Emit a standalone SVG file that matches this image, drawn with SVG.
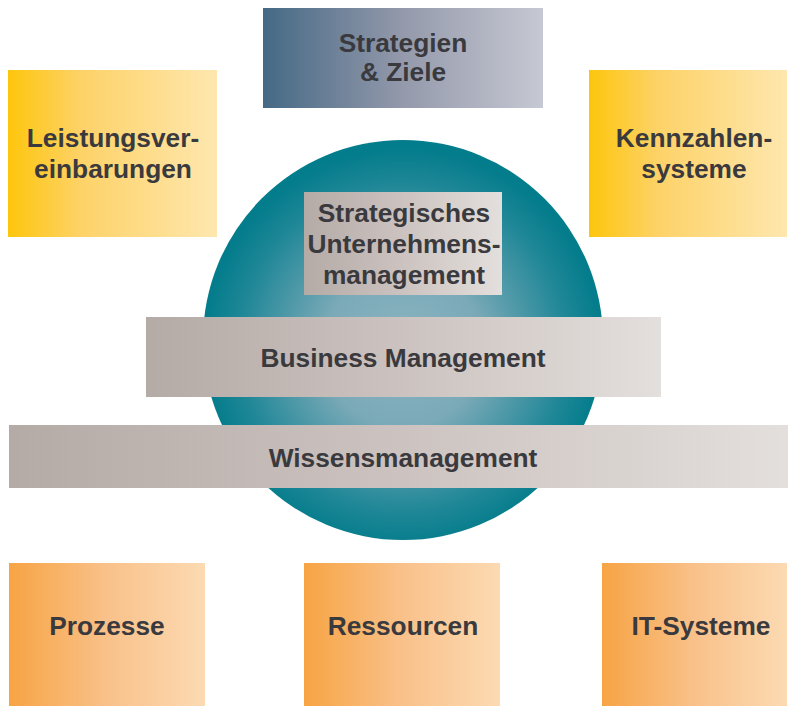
<svg xmlns="http://www.w3.org/2000/svg" width="788" height="706" viewBox="0 0 788 706">
  <defs>
    <linearGradient id="gBlue" x1="0" y1="0" x2="1" y2="0">
      <stop offset="0" stop-color="#456985"/>
      <stop offset="0.5" stop-color="#9499ab"/>
      <stop offset="1" stop-color="#c6c9d3"/>
    </linearGradient>
    <linearGradient id="gYellow" x1="0" y1="0" x2="1" y2="0">
      <stop offset="0" stop-color="#fdc60c"/>
      <stop offset="0.35" stop-color="#fdd268"/>
      <stop offset="1" stop-color="#fee7ae"/>
    </linearGradient>
    <linearGradient id="gOrange" x1="0" y1="0" x2="1" y2="0">
      <stop offset="0" stop-color="#f7a444"/>
      <stop offset="0.5" stop-color="#f9c18a"/>
      <stop offset="1" stop-color="#fcdab2"/>
    </linearGradient>
    <linearGradient id="gGrey" x1="0" y1="0" x2="1" y2="0">
      <stop offset="0" stop-color="#b4aaa6"/>
      <stop offset="0.5" stop-color="#ccc3c0"/>
      <stop offset="1" stop-color="#e3dfdc"/>
    </linearGradient>
    <radialGradient id="gSphere" cx="0.5" cy="0.52" r="0.5">
      <stop offset="0" stop-color="#8cb5c3"/>
      <stop offset="0.4" stop-color="#7aa9b7"/>
      <stop offset="0.82" stop-color="#1f8797"/>
      <stop offset="1" stop-color="#037c8b"/>
    </radialGradient>
  </defs>
  <style>
    text { font-family: "Liberation Sans", Arial, sans-serif; font-weight: bold; font-size: 26.3px; fill: #3a3a3e; text-anchor: middle; }
  </style>

  <rect width="788" height="706" fill="#ffffff"/>

  <!-- central sphere -->
  <g id="sphere">
    <circle cx="403" cy="340" r="200" fill="url(#gSphere)"/>
  </g>

  <g id="strategien-ziele">
    <rect x="263" y="8" width="280" height="100" fill="url(#gBlue)"/>
    <text x="403" y="52">Strategien</text>
    <text x="403" y="81">&amp; Ziele</text>
  </g>

  <g id="leistungsvereinbarungen">
    <rect x="8" y="70" width="209" height="167" fill="url(#gYellow)"/>
    <text x="113" y="147">Leistungsver-</text>
    <text x="113" y="178">einbarungen</text>
  </g>

  <g id="kennzahlensysteme">
    <rect x="589" y="70" width="198" height="167" fill="url(#gYellow)"/>
    <text x="694" y="147">Kennzahlen-</text>
    <text x="694" y="178">systeme</text>
  </g>

  <g id="strategisches-unternehmensmanagement">
    <rect x="304" y="192" width="198" height="103" fill="url(#gGrey)"/>
    <text x="404" y="222">Strategisches</text>
    <text x="404" y="253">Unternehmens-</text>
    <text x="404" y="284">management</text>
  </g>

  <g id="business-management">
    <rect x="146" y="317" width="515" height="80" fill="url(#gGrey)"/>
    <text x="403" y="367">Business Management</text>
  </g>

  <g id="wissensmanagement">
    <rect x="9" y="425" width="779" height="63" fill="url(#gGrey)"/>
    <text x="403" y="467">Wissensmanagement</text>
  </g>

  <g id="prozesse">
    <rect x="9" y="563" width="196" height="143" fill="url(#gOrange)"/>
    <text x="107" y="635">Prozesse</text>
  </g>

  <g id="ressourcen">
    <rect x="304" y="563" width="196" height="143" fill="url(#gOrange)"/>
    <text x="403" y="635">Ressourcen</text>
  </g>

  <g id="it-systeme">
    <rect x="602" y="563" width="185" height="143" fill="url(#gOrange)"/>
    <text x="701" y="635">IT-Systeme</text>
  </g>

  <g id="connectors"></g>
</svg>
